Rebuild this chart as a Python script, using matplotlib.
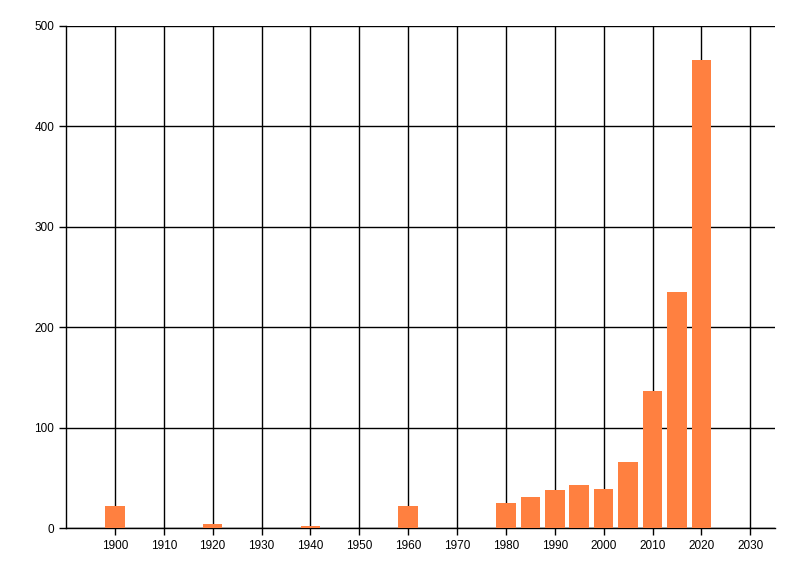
import matplotlib
matplotlib.use("Agg")
import matplotlib.pyplot as plt

years = [1900, 1920, 1940, 1960, 1980, 1985, 1990, 1995, 2000, 2005, 2010, 2015, 2020]
counts = [22, 4, 2, 22, 25, 31, 38, 43, 39, 66, 136, 235, 466]
x_ticks = list(range(1900, 2031, 10))
y_ticks = [0, 100, 200, 300, 400, 500]

plt.rcParams['font.family'] = ['Liberation Sans', 'DejaVu Sans']
fig = plt.figure(figsize=(8, 5.76), dpi=100)
ax = fig.add_axes([0.0825, 0.0833, 0.886, 0.872])

ax.bar(years, counts, width=4, color="#FF8040", zorder=3)

ax.set_xlim(1890, 2035)
ax.set_ylim(0, 500)
ax.set_xticks(x_ticks)
ax.set_yticks(y_ticks)
ax.grid(True, color="black", linewidth=1, zorder=0)
ax.set_axisbelow(True)
for s in ["top", "right"]:
    ax.spines[s].set_visible(False)
for s in ["left", "bottom"]:
    ax.spines[s].set_linewidth(1)
ax.tick_params(direction="out", length=5, width=1, labelsize=8.5, colors="black")

fig.savefig("out.png", dpi=100)
